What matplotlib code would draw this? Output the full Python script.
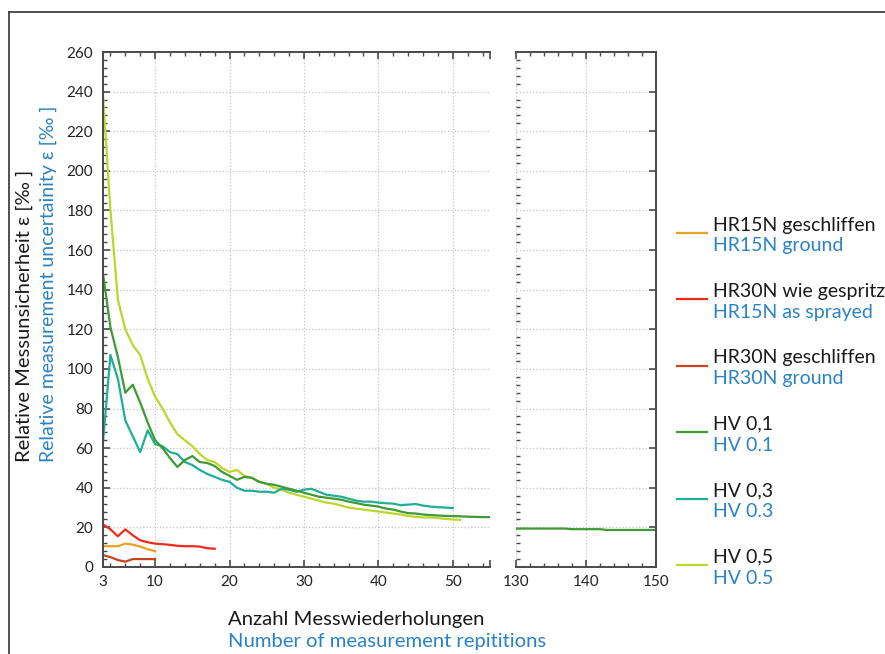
import matplotlib
matplotlib.use("Agg")
import matplotlib.pyplot as plt
from matplotlib.lines import Line2D
from matplotlib.ticker import MultipleLocator

plt.rcParams['font.family'] = ['Lato', 'DejaVu Sans']

W, H = 885, 654

# data
n_hv01 = list(range(3, 56))
hv01 = [148, 121, 106, 88, 92, 83, 73, 64, 60, 55, 50.5, 54, 56, 53, 52.5, 51, 48, 46,
        44, 45.5, 45, 43, 42, 41.5, 40.5, 39.5, 38.5, 37.5, 36.5, 35.5, 35, 34.5, 34, 33,
        32.3, 31.5, 31, 30.5, 29.5, 29, 28, 27.2, 27, 26.5, 26.2, 26, 25.8, 25.7, 25.6,
        25.4, 25.3, 25.2, 25.2]
n_hv01_far = list(range(130, 151))
hv01_far = [19.4] * 8 + [19.1] * 5 + [18.7] * 8

n_hv03 = list(range(3, 51))
hv03 = [63, 107, 95, 74, 66, 58, 69, 62, 61, 58, 57, 53, 51.5, 49, 47, 45.5, 44, 43,
        40, 38.5, 38.5, 38, 38, 37.5, 39.5, 39, 38, 39, 39.5, 38, 36.5, 36, 35.5, 34.5,
        33.5, 33, 33, 32.5, 32.2, 32, 31.2, 31.5, 31.8, 31, 30.5, 30.2, 30, 29.8]

n_hv05 = list(range(3, 52))
hv05 = [238, 180, 135, 120, 112, 107, 95, 86, 80, 73, 67, 64, 61, 57, 54, 53, 50, 48,
        49, 46, 45, 43, 42, 40, 39, 37.5, 36.5, 35.5, 34.5, 33.5, 32.5, 32, 31, 30,
        29.5, 29, 28.5, 28, 27.5, 27, 26.5, 25.8, 25.3, 25, 25, 24.7, 24.3, 24, 23.8]

n_hr30_spr = list(range(3, 19))
hr30_spr = [21.5, 19, 15.5, 19, 16, 13.5, 12.5, 11.8, 11.5, 11.2, 10.7, 10.5, 10.5,
            10.3, 9.5, 9.2]

n_hr15_gs = list(range(3, 11))
hr15_gs = [10.5, 10.5, 10.5, 11.8, 11.3, 10.3, 9, 8]

n_hr30_gs = list(range(3, 11))
hr30_gs = [6, 5, 3.5, 2.7, 4, 4, 4, 4]

labels_de = ["HR15N geschliffen", "HR30N wie gespritz", "HR30N geschliffen",
             "HV 0,1", "HV 0,3", "HV 0,5"]
labels_en = ["HR15N ground", "HR15N as sprayed", "HR30N ground",
             "HV 0.1", "HV 0.3", "HV 0.5"]
colors = ["#E9A023", "#EE2A1B", "#C9431C", "#3D9A35", "#20AE98", "#BED52B"]

blue = "#2B83C4"
spine_c = "#4a4a4a"
grid_c = "#c4c4c4"


def fx(px):
    return px / W


def fy(py):
    return 1 - py / H


fig = plt.figure(figsize=(W / 100, H / 100), dpi=100)

bottom, top = fy(567), fy(52)
ax1 = fig.add_axes([fx(103), bottom, fx(490) - fx(103), top - bottom])
ax2 = fig.add_axes([fx(516), bottom, fx(656) - fx(516), top - bottom])

lw = 1.6
ax1.plot(n_hr15_gs, hr15_gs, color=colors[0], lw=lw)
ax1.plot(n_hr30_spr, hr30_spr, color=colors[1], lw=lw)
ax1.plot(n_hr30_gs, hr30_gs, color=colors[2], lw=lw)
ax1.plot(n_hv05, hv05, color=colors[5], lw=lw)
ax1.plot(n_hv03, hv03, color=colors[4], lw=lw)
ax1.plot(n_hv01, hv01, color=colors[3], lw=lw)
ax2.plot(n_hv01_far, hv01_far, color=colors[3], lw=lw)

for ax in (ax1, ax2):
    ax.set_ylim(0, 260)
    ax.yaxis.set_major_locator(MultipleLocator(20))
    ax.yaxis.set_minor_locator(MultipleLocator(4))
    ax.xaxis.set_minor_locator(MultipleLocator(2))
    ax.grid(True, which='major', color=grid_c, ls=':', lw=0.9)
    ax.set_axisbelow(True)
    for s in ax.spines.values():
        s.set_color(spine_c)
        s.set_linewidth(1.4)
    ax.tick_params(which='both', direction='in', colors=spine_c, labelcolor='#222222',
                   labelsize=11, top=True)
    ax.tick_params(which='major', length=5, width=1.2)
    ax.tick_params(which='minor', length=3, width=1.0)
    ax.tick_params(axis='x', pad=6)

ax1.set_xlim(3, 55)
ax1.set_xticks([3, 10, 20, 30, 40, 50, 55])
ax1.set_xticklabels(['3', '10', '20', '30', '40', '50', ''])
ax1.get_xgridlines()[-1].set_visible(False)
ax1.spines['right'].set_visible(False)
ax1.tick_params(axis='y', right=False, pad=7)

ax2.set_xlim(130, 150)
ax2.set_xticks([130, 140, 150])
ax2.spines['left'].set_visible(False)
ax2.tick_params(axis='y', left=False, right=True, labelleft=False)

# axis labels (two languages, stacked)
fig.text(fx(30), fy(462), "Relative Messunsicherheit ε [‰ ]", rotation=90,
         rotation_mode='anchor', ha='left', va='baseline', fontsize=14.5,
         color='#1a1a1a')
fig.text(fx(54), fy(462), "Relative measurement uncertainity ε [‰ ]", rotation=90,
         rotation_mode='anchor', ha='left', va='baseline', fontsize=14, color=blue)
fig.text(fx(228), fy(620), "Anzahl Messwiederholungen", ha='left', va='center',
         fontsize=14.6, color='#1a1a1a')
fig.text(fx(228), fy(641), "Number of measurement repititions",
         ha='left', va='center', fontsize=14.6, color=blue)

# legend, drawn by hand because of the two-language labels
for i, (de, en, c) in enumerate(zip(labels_de, labels_en, colors)):
    yl = 233 + i * 66.4
    fig.add_artist(Line2D([fx(677), fx(707)], [fy(yl), fy(yl)], color=c, lw=1.6))
    fig.text(fx(713), fy(yl - 8), de, ha='left', va='center', fontsize=14,
             color='#1a1a1a')
    fig.text(fx(713), fy(yl + 13), en, ha='left', va='center', fontsize=14,
             color=blue)

# outer frame (top and left edges visible)
fig.add_artist(Line2D([fx(9), 1], [fy(12), fy(12)], color='#333333', lw=1.2))
fig.add_artist(Line2D([fx(9), fx(9)], [fy(12), 0], color='#333333', lw=1.2))

fig.savefig("out.png", dpi=100)
